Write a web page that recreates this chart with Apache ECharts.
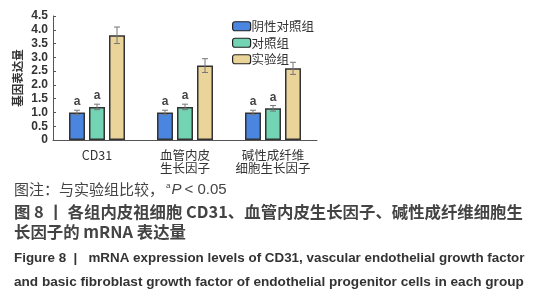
<!DOCTYPE html>
<html>
<head>
<meta charset="utf-8">
<script src="https://cdn.jsdelivr.net/npm/echarts@6/dist/echarts.min.js"></script>
<style>
html,body{margin:0;padding:0;background:#fff;}
#main{width:539px;height:300px;}
</style>
</head>
<body>
<div id="main"></div>
<script>
// 数据
const categories = ['CD31', '血管内皮\n生长因子', '碱性成纤维\n细胞生长因子'];
const seriesNames = ['阴性对照组', '对照组', '实验组'];
const negValues = [1.0, 1.0, 1.0];
const negErrors = [0.08, 0.08, 0.08];
const ctrlValues = [1.2, 1.2, 1.15];
const ctrlErrors = [0.1, 0.1, 0.1];
const expValues = [3.8, 2.7, 2.6];
const expErrors = [0.3, 0.25, 0.22];
const sigMarks = ['a', 'a', ''];
const yTicks = [0, 0.5, 1.0, 1.5, 2.0, 2.5, 3.0, 3.5, 4.0, 4.5];

const colors = ['#4a86e0', '#72d4b2', '#ead49a'];
const cjk = '"Noto Sans CJK SC", sans-serif';

const myChart = echarts.init(document.getElementById('main'));

const groups = [
    {name: seriesNames[0], values: negValues, errors: negErrors, mark: sigMarks[0]},
    {name: seriesNames[1], values: ctrlValues, errors: ctrlErrors, mark: sigMarks[1]},
    {name: seriesNames[2], values: expValues, errors: expErrors, mark: sigMarks[2]}
];

const barSeries = groups.map((g, i) => ({
    name: g.name,
    type: 'bar',
    barWidth: 16,
    barGap: '25%',
    itemStyle: {color: colors[i], borderColor: '#333', borderWidth: 1.5},
    label: {
        show: !!g.mark,
        position: 'top',
        distance: 5,
        formatter: g.mark,
        color: '#444',
        fontWeight: 'bold',
        fontSize: 12,
        fontFamily: 'Arial, sans-serif'
    },
    data: g.values
}));

// 误差线
const errSeries = groups.map((g, i) => ({
    type: 'custom',
    name: g.name + '_err',
    z: 5,
    renderItem: (params, api) => {
        const idx = api.value(0);
        const top = api.coord([idx, api.value(1) + api.value(2)]);
        const bot = api.coord([idx, api.value(1) - api.value(2)]);
        // 3 个柱子, 宽16, 间距4
        const offset = (i - 1) * 20;
        const x = top[0] + offset;
        const style = {stroke: '#777', lineWidth: 1};
        return {
            type: 'group',
            children: [
                {type: 'line', shape: {x1: x, y1: top[1], x2: x, y2: bot[1]}, style},
                {type: 'line', shape: {x1: x - 3, y1: top[1], x2: x + 3, y2: top[1]}, style},
                {type: 'line', shape: {x1: x - 3, y1: bot[1], x2: x + 3, y2: bot[1]}, style}
            ]
        };
    },
    data: g.values.map((v, k) => [k, v, g.errors[k]])
}));

const captionStyle = {fill: '#444', fontFamily: cjk};
const enFont = '"Liberation Sans Narrow", sans-serif';

myChart.setOption({
    animation: false,
    grid: {left: 53, right: 222, top: 16, bottom: 160},
    legend: {
        data: seriesNames,
        orient: 'vertical',
        left: 227,
        top: 15,
        itemWidth: 18,
        itemHeight: 9,
        itemGap: 4,
        textStyle: {fontSize: 12.5, color: '#333', fontFamily: cjk, padding: [0, 0, 0, -4]},
        itemStyle: {borderColor: '#222', borderWidth: 1.2}
    },
    xAxis: {
        type: 'category',
        data: categories,
        axisLine: {lineStyle: {color: '#555', width: 1}},
        axisTick: {show: false},
        axisLabel: {
            interval: 0,
            color: '#333',
            fontSize: 12.5,
            fontFamily: cjk,
            lineHeight: 13,
            margin: 9
        }
    },
    yAxis: {
        type: 'value',
        min: 0,
        max: 4.5,
        interval: 0.5,
        name: '基因表达量',
        nameLocation: 'middle',
        nameGap: 30,
        nameTextStyle: {fontSize: 11.5, color: '#333', fontFamily: cjk, fontWeight: 'bold'},
        axisLine: {show: true, lineStyle: {color: '#555', width: 1}},
        axisTick: {show: true, inside: true, length: 3, lineStyle: {color: '#555'}},
        splitLine: {show: false},
        axisLabel: {
            color: '#333',
            fontSize: 12,
            fontWeight: 'bold',
            fontFamily: 'Arial, sans-serif',
            margin: 5,
            formatter: v => yTicks.indexOf(v) === 0 ? '0' : v.toFixed(1)
        }
    },
    series: barSeries.concat(errSeries),
    graphic: [
        {type: 'text', left: 14, top: 182, style: Object.assign({text: '图注：与实验组比较，', fontSize: 15}, captionStyle)},
        {type: 'text', left: 166, top: 182, style: {text: '{s|a}{i|P}< 0.05', fill: '#444', fontSize: 15, fontFamily: enFont,
            rich: {s: {fontSize: 8, verticalAlign: 'top', fill: '#444', padding: [0, 1, 7, 0]}, i: {fontStyle: 'italic', fontSize: 15, fill: '#444', padding: [0, 3, 0, 0]}}}},
        {type: 'text', left: 14, top: 204, style: Object.assign({text: '图 8 丨 各组内皮祖细胞 CD31、血管内皮生长因子、碱性成纤维细胞生', fontSize: 16.4, fontWeight: 'bold'}, captionStyle)},
        {type: 'text', left: 14, top: 224, style: Object.assign({text: '长因子的 mRNA 表达量', fontSize: 16.4, fontWeight: 'bold'}, captionStyle)},
        {type: 'text', left: 14, top: 252, style: {text: 'Figure 8  |   mRNA expression levels of CD31, vascular endothelial growth factor', fontSize: 13.4, fontWeight: 'bold', fill: '#333', fontFamily: enFont}},
        {type: 'text', left: 14, top: 275, style: {text: 'and basic fibroblast growth factor of endothelial progenitor cells in each group', fontSize: 13.6, fontWeight: 'bold', fill: '#333', fontFamily: enFont}}
    ]
});
</script>
</body>
</html>
